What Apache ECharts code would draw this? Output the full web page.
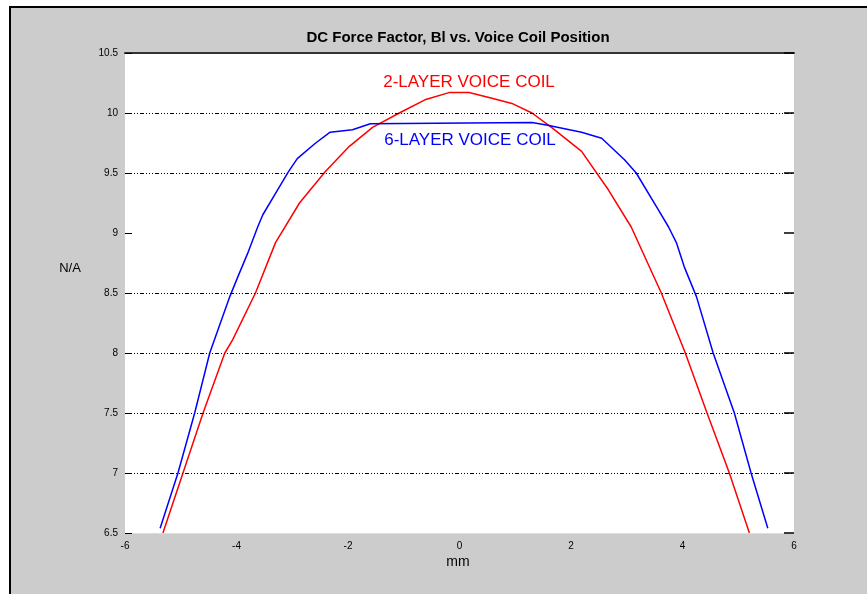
<!DOCTYPE html>
<html>
<head>
<meta charset="utf-8">
<script src="https://cdn.jsdelivr.net/npm/echarts@6/dist/echarts.min.js"></script>
<style>
html,body{margin:0;padding:0;background:#fff;}
#chart{width:867px;height:594px;}
</style>
</head>
<body>
<div id="chart"></div>
<script>
// Chart data
const titleText = 'DC Force Factor, Bl vs. Voice Coil Position';
const xAxisName = 'mm';
const yAxisName = 'N/A';
const xTicks = [-6, -4, -2, 0, 2, 4, 6];
const yTicks = [6.5, 7, 7.5, 8, 8.5, 9, 9.5, 10, 10.5];
const gridLevels = [7, 7.5, 8, 8.5, 9.5, 10];

const twoLayerName = '2-LAYER VOICE COIL';
const twoLayerX = [-5.32, -4.96, -4.6, -4.21, -4.07, -3.66, -3.30, -2.87, -2.41, -1.98, -1.56, -1.08, -0.62, -0.19, 0.17, 0.53, 0.94, 1.30, 1.65, 2.19, 2.67, 3.08, 3.62, 4.05, 4.44, 4.84, 5.20];
const twoLayerY = [6.5, 7.0, 7.5, 8.0, 8.11, 8.5, 8.92, 9.25, 9.51, 9.72, 9.88, 10.0, 10.11, 10.17, 10.17, 10.13, 10.08, 10.0, 9.88, 9.68, 9.36, 9.05, 8.5, 8.0, 7.5, 7.0, 6.5];

const sixLayerName = '6-LAYER VOICE COIL';
const sixLayerX = [-5.37, -5.05, -4.75, -4.48, -4.12, -3.98, -3.80, -3.62, -3.53, -3.30, -3.07, -2.91, -2.58, -2.32, -1.92, -1.60, 1.30, 1.56, 2.19, 2.55, 2.96, 3.17, 3.57, 3.75, 3.89, 4.03, 4.25, 4.55, 4.93, 5.23, 5.53];
const sixLayerY = [6.54, 7.0, 7.5, 8.0, 8.47, 8.63, 8.83, 9.05, 9.15, 9.33, 9.51, 9.62, 9.75, 9.84, 9.86, 9.91, 9.92, 9.90, 9.84, 9.79, 9.61, 9.5, 9.19, 9.05, 8.92, 8.72, 8.47, 8.0, 7.5, 7.0, 6.54];

const zip = (xs, ys) => xs.map((x, i) => [x, ys[i]]);

const chart = echarts.init(document.getElementById('chart'), null, {renderer: 'canvas'});
const FONT = 'Liberation Sans';
const gridLeft = 125, gridTop = 53, gridRight = 867 - 794, gridBottom = 594 - 533;

const option = {
  animation: false,
  backgroundColor: 'transparent',
  graphic: [
    {type: 'rect', z: -10, shape: {x: 10, y: 7, width: 900, height: 700},
     style: {fill: '#cccccc', stroke: '#000000', lineWidth: 2}},
    {type: 'text', x: 458, y: 38, z: 10,
     style: {text: titleText, fontFamily: FONT, fontSize: 15, fontWeight: 'bold', fill: '#000', textAlign: 'center', textVerticalAlign: 'middle'}},
    {type: 'text', x: 458, y: 562, z: 10,
     style: {text: xAxisName, fontFamily: FONT, fontSize: 14, fill: '#000', textAlign: 'center', textVerticalAlign: 'middle'}},
    {type: 'text', x: 70, y: 268, z: 10,
     style: {text: yAxisName, fontFamily: FONT, fontSize: 13, fill: '#000', textAlign: 'center', textVerticalAlign: 'middle'}},
    {type: 'text', x: 469, y: 82, z: 10,
     style: {text: twoLayerName, fontFamily: FONT, fontSize: 17, fill: '#ff0000', textAlign: 'center', textVerticalAlign: 'middle'}},
    {type: 'text', x: 470, y: 140, z: 10,
     style: {text: sixLayerName, fontFamily: FONT, fontSize: 17, fill: '#0000ff', textAlign: 'center', textVerticalAlign: 'middle'}}
  ],
  grid: {left: gridLeft, right: gridRight, top: gridTop, bottom: gridBottom, show: true, backgroundColor: '#ffffff', borderWidth: 0},
  xAxis: [
    {type: 'value', min: xTicks[0], max: xTicks[xTicks.length - 1], interval: 2, position: 'bottom',
     axisLine: {show: true, onZero: false, lineStyle: {color: '#dddddd', width: 1}},
     axisTick: {show: false},
     splitLine: {show: false},
     axisLabel: {fontFamily: FONT, fontSize: 10, color: '#000', margin: 8}},
    {type: 'value', min: xTicks[0], max: xTicks[xTicks.length - 1], interval: 2, position: 'top',
     axisLine: {show: true, onZero: false, lineStyle: {color: '#333333', width: 2}},
     axisTick: {show: false}, axisLabel: {show: false}, splitLine: {show: false}}
  ],
  yAxis: [
    {type: 'value', min: 6.5, max: 10.5, interval: 0.5, position: 'left',
     axisLine: {show: true, onZero: false, lineStyle: {color: 'rgba(0,0,0,0)'}},
     axisTick: {show: true, inside: true, length: 7, lineStyle: {color: '#000', width: 1}},
     splitLine: {show: false},
     axisLabel: {fontFamily: FONT, fontSize: 10, color: '#000', margin: 7,
       formatter: v => (Math.abs(v - Math.round(v)) < 1e-9 ? String(Math.round(v)) : String(v))}},
    {type: 'value', min: 6.5, max: 10.5, interval: 0.5, position: 'right',
     axisLine: {show: true, onZero: false, lineStyle: {color: 'rgba(0,0,0,0)'}},
     axisTick: {show: true, inside: true, length: 10, lineStyle: {color: '#000', width: 1.5}},
     splitLine: {show: false}, axisLabel: {show: false}}
  ],
  series: [
    {type: 'line', name: 'grid', xAxisIndex: 0, yAxisIndex: 0, data: [], silent: true,
     markLine: {silent: true, symbol: 'none', label: {show: false},
       lineStyle: {color: '#000000', width: 1, type: [4, 2, 1, 2, 1, 2, 1, 2]},
       data: gridLevels.map(v => ({yAxis: v}))}},
    {type: 'line', name: twoLayerName, xAxisIndex: 0, yAxisIndex: 0, data: zip(twoLayerX, twoLayerY),
     showSymbol: false, lineStyle: {color: '#ff0000', width: 1.5}, z: 3},
    {type: 'line', name: sixLayerName, xAxisIndex: 0, yAxisIndex: 0, data: zip(sixLayerX, sixLayerY),
     showSymbol: false, lineStyle: {color: '#0000ff', width: 1.5}, z: 4}
  ]
};
chart.setOption(option);
</script>
</body>
</html>
